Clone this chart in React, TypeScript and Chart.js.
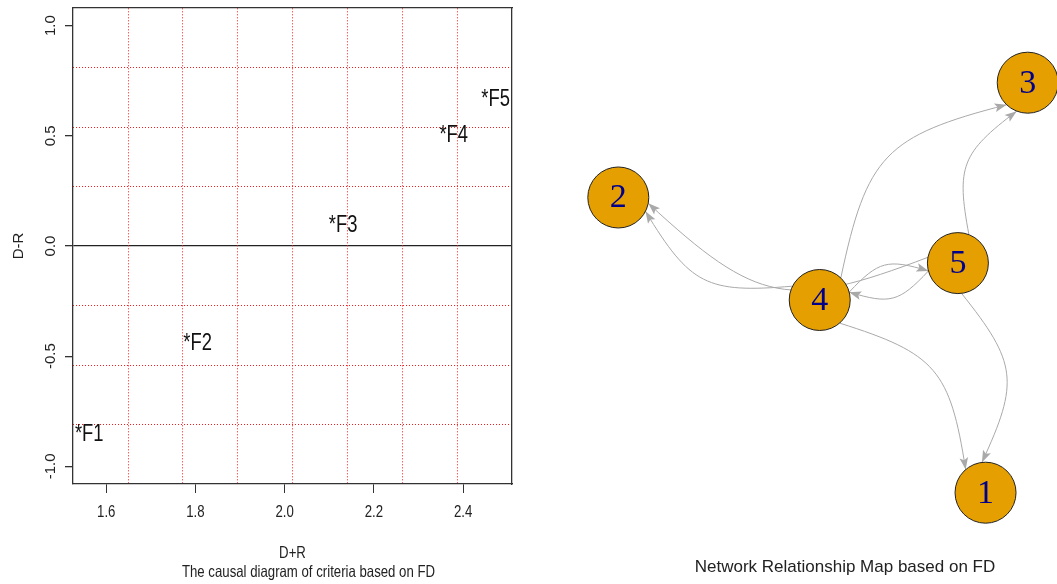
import React, { useEffect, useRef } from "react";
import { Chart, registerables } from "chart.js";

Chart.register(...registerables);

// ---------- Left panel: causal diagram (D+R vs D-R) ----------
const factorNames = ["F1", "F2", "F3", "F4", "F5"];
const dPlusR = [1.562, 1.805, 2.131, 2.379, 2.473];
const dMinusR = [-0.858, -0.445, 0.094, 0.501, 0.664];
const xTickValues = [1.6, 1.8, 2.0, 2.2, 2.4];
const yTickValues = [-1.0, -0.5, 0.0, 0.5, 1.0];
const gridXValues = [1.649, 1.772, 1.895, 2.018, 2.141, 2.264, 2.387];
const gridYValues = [-0.81, -0.54, -0.27, 0.27, 0.54, 0.81];
const xLimits = [1.5255, 2.5097];
const yLimits = [-1.08, 1.08];
const causalCaption = "The causal diagram of criteria based on FD";

// ---------- Right panel: network relationship map ----------
const nodeLabels = ["1", "2", "3", "4", "5"];
const nodeX = [0.794, -1.0, 1.0, -0.016, 0.659];
const nodeY = [-1.0, 0.44, 1.0, -0.06, 0.12];
const edgeFrom = [4, 4, 4, 4, 5, 5, 5, 5];
const edgeTo = [1, 2, 3, 5, 1, 2, 3, 4];
const edgeCurvature = 0.62;
const netXLimits = [-1.2848, 1.1431];
const netYLimits = [-1.4454, 1.4034];
const networkCaption = "Network Relationship Map based on FD";

const SANS = "'Liberation Sans', Arial, sans-serif";
const SERIF = "'Liberation Serif', 'Times New Roman', serif";

const LEFT_W = 560;
const H = 584;
const RIGHT_X = 560;
const RIGHT_W = 1057 - RIGHT_X;
const NODE_R = 30.5;
const LEFT_TEXT_SQUASH = 0.8; // left panel horizontal text is condensed

function zeroPadding(s: any) {
  s.paddingTop = 0;
  s.paddingBottom = 0;
  s.paddingLeft = 0;
  s.paddingRight = 0;
}

function CausalChart() {
  const ref = useRef<HTMLCanvasElement>(null);
  useEffect(() => {
    const canvas = ref.current;
    if (!canvas) return;

    // condensed glyphs for horizontal text on this canvas
    const c2d: any = canvas.getContext("2d");
    const origFill = c2d.fillText;
    c2d.fillText = function (text: string, x: number, y: number, maxWidth?: number) {
      const m = c2d.getTransform();
      const rotated = Math.abs(m.b) > 1e-6 || Math.abs(m.c) > 1e-6;
      if (rotated) {
        if (maxWidth === undefined) origFill.call(c2d, text, x, y);
        else origFill.call(c2d, text, x, y, maxWidth);
        return;
      }
      const p = m.transformPoint(new DOMPoint(x, y));
      const n = new DOMMatrix()
        .translate(p.x, p.y)
        .scale(LEFT_TEXT_SQUASH, 1)
        .translate(-p.x, -p.y)
        .multiply(m);
      c2d.setTransform(n);
      if (maxWidth === undefined) origFill.call(c2d, text, x, y);
      else origFill.call(c2d, text, x, y, maxWidth);
      c2d.setTransform(m);
    };

    const labelPlugin = {
      id: "factorLabels",
      afterDatasetsDraw(chart: any) {
        const ctx = chart.ctx;
        const meta = chart.getDatasetMeta(0);
        ctx.save();
        ctx.font = `23px ${SANS}`;
        ctx.fillStyle = "#111";
        ctx.textAlign = "center";
        ctx.textBaseline = "middle";
        meta.data.forEach((el: any, i: number) => {
          ctx.fillText("*" + factorNames[i], el.x, el.y);
        });
        ctx.restore();
      },
    };

    const captionPlugin = {
      id: "causalCaption",
      afterDraw(chart: any) {
        const { ctx, chartArea } = chart;
        ctx.save();
        ctx.font = `16.5px ${SANS}`;
        ctx.fillStyle = "#222";
        ctx.textAlign = "center";
        ctx.textBaseline = "middle";
        ctx.fillText(
          causalCaption,
          (chartArea.left + chartArea.right) / 2 + 16,
          chartArea.bottom + 88
        );
        ctx.restore();
      },
    };

    const chart = new Chart(canvas, {
      type: "scatter",
      data: {
        datasets: [
          {
            data: dPlusR.map((x, i) => ({ x, y: dMinusR[i] })),
            pointRadius: 0,
            pointHoverRadius: 0,
          },
        ],
      },
      options: {
        animation: false,
        responsive: false,
        events: [],
        layout: { autoPadding: false, padding: { left: 0, top: 8, right: LEFT_W - 512, bottom: 0 } },
        plugins: { legend: { display: false }, tooltip: { enabled: false } },
        scales: {
          x: {
            type: "linear",
            position: "bottom",
            min: xLimits[0],
            max: xLimits[1],
            afterBuildTicks: (s: any) => {
              s.ticks = xTickValues.map((v) => ({ value: v }));
            },
            afterFit: (s: any) => {
              s.height = 100;
              zeroPadding(s);
            },
            ticks: {
              color: "#222",
              padding: 10,
              font: { family: SANS, size: 16.5 },
              callback: (v: any) => Number(v).toFixed(1),
            },
            grid: {
              drawOnChartArea: false,
              drawTicks: true,
              tickLength: 9,
              color: "#333",
              tickColor: "#333",
            },
            border: { display: true, color: "#333", width: 1.3 },
            title: {
              display: true,
              text: "D+R",
              color: "#222",
              font: { family: SANS, size: 16.5 },
              padding: { top: 0, bottom: 21 },
            },
          },
          y: {
            type: "linear",
            position: "left",
            min: yLimits[0],
            max: yLimits[1],
            afterBuildTicks: (s: any) => {
              s.ticks = yTickValues.map((v) => ({ value: v }));
            },
            afterFit: (s: any) => {
              s.width = 73;
              zeroPadding(s);
            },
            ticks: {
              color: "#222",
              minRotation: 90,
              maxRotation: 90,
              crossAlign: "center",
              padding: 1,
              font: { family: SANS, size: 15 },
              callback: (v: any) => Number(v).toFixed(1),
            },
            grid: {
              drawOnChartArea: true,
              drawTicks: true,
              tickLength: 8,
              lineWidth: 1.3,
              color: (c: any) =>
                c.tick && Math.abs(c.tick.value) < 1e-9 ? "#222" : "rgba(0,0,0,0)",
              tickColor: "#333",
            },
            border: { display: true, color: "#333", width: 1.3 },
            title: {
              display: true,
              text: "D-R",
              color: "#222",
              font: { family: SANS, size: 15 },
              padding: { top: 9.5, bottom: 0 },
            },
          },
          gx: {
            type: "linear",
            position: "top",
            min: xLimits[0],
            max: xLimits[1],
            afterBuildTicks: (s: any) => {
              s.ticks = gridXValues.map((v) => ({ value: v }));
            },
            afterFit: (s: any) => {
              s.height = 0;
              zeroPadding(s);
            },
            ticks: { display: false },
            grid: { color: "#ff1a1a", lineWidth: 1, drawTicks: false },
            border: { display: true, color: "#333", width: 1.3, dash: [1, 2] },
          },
          gy: {
            type: "linear",
            position: "right",
            min: yLimits[0],
            max: yLimits[1],
            afterBuildTicks: (s: any) => {
              s.ticks = gridYValues.map((v) => ({ value: v }));
            },
            afterFit: (s: any) => {
              s.width = 0;
              zeroPadding(s);
            },
            ticks: { display: false },
            grid: { color: "#ff1a1a", lineWidth: 1, drawTicks: false },
            border: { display: true, color: "#333", width: 1.3, dash: [1, 2] },
          },
        },
      } as any,
      plugins: [labelPlugin, captionPlugin],
    });
    return () => {
      chart.destroy();
      c2d.fillText = origFill;
    };
  }, []);
  return (
    <canvas
      ref={ref}
      width={LEFT_W}
      height={H}
      style={{ position: "absolute", left: 0, top: 0, width: LEFT_W, height: H }}
    />
  );
}

function drawArrowHead(ctx: any, tx: number, ty: number, dx: number, dy: number) {
  const len = 12;
  const half = 4.3;
  const notch = 9.5;
  const nx = -dy;
  const ny = dx;
  const bx = tx - dx * len;
  const by = ty - dy * len;
  ctx.beginPath();
  ctx.moveTo(tx, ty);
  ctx.lineTo(bx + nx * half, by + ny * half);
  ctx.lineTo(tx - dx * notch, ty - dy * notch);
  ctx.lineTo(bx - nx * half, by - ny * half);
  ctx.closePath();
  ctx.fill();
}

function NetworkChart() {
  const ref = useRef<HTMLCanvasElement>(null);
  useEffect(() => {
    const canvas = ref.current;
    if (!canvas) return;

    const edgesPlugin = {
      id: "edges",
      beforeDatasetsDraw(chart: any) {
        const ctx = chart.ctx;
        const pts = chart.getDatasetMeta(0).data.map((e: any) => ({ x: e.x, y: e.y }));
        ctx.save();
        ctx.strokeStyle = "#A9A9A9";
        ctx.fillStyle = "#A9A9A9";
        ctx.lineWidth = 1;
        for (let i = 0; i < edgeFrom.length; i++) {
          const a = pts[edgeFrom[i] - 1];
          const b = pts[edgeTo[i] - 1];
          const dx = b.x - a.x;
          const dy = b.y - a.y;
          const L = Math.hypot(dx, dy);
          const ux = dx / L;
          const uy = dy / L;
          const ax = a.x + ux * NODE_R;
          const ay = a.y + uy * NODE_R;
          const bx = b.x - ux * NODE_R;
          const by = b.y - uy * NODE_R;
          const Lc = L - 2 * NODE_R;
          const mx = (ax + bx) / 2;
          const my = (ay + by) / 2;
          const off = (edgeCurvature * Lc) / 2;
          const px = mx + uy * off;
          const py = my - ux * off;
          const k = 8 / 9;
          const c1x = ax + k * (px - ax);
          const c1y = ay + k * (py - ay);
          const c2x = bx + k * (px - bx);
          const c2y = by + k * (py - by);
          ctx.beginPath();
          ctx.moveTo(ax, ay);
          ctx.bezierCurveTo(c1x, c1y, c2x, c2y, bx, by);
          ctx.stroke();
          const tdx = bx - c2x;
          const tdy = by - c2y;
          const tl = Math.hypot(tdx, tdy);
          drawArrowHead(ctx, bx, by, tdx / tl, tdy / tl);
        }
        ctx.restore();
      },
    };

    const nodeLabelPlugin = {
      id: "nodeLabels",
      afterDatasetsDraw(chart: any) {
        const ctx = chart.ctx;
        const meta = chart.getDatasetMeta(0);
        ctx.save();
        ctx.font = `34px ${SERIF}`;
        ctx.fillStyle = "#00008B";
        ctx.textAlign = "center";
        ctx.textBaseline = "middle";
        meta.data.forEach((el: any, i: number) => {
          ctx.fillText(nodeLabels[i], el.x, el.y + 1);
        });
        ctx.restore();
      },
    };

    const captionPlugin = {
      id: "networkCaption",
      afterDraw(chart: any) {
        const ctx = chart.ctx;
        ctx.save();
        ctx.font = `17px ${SANS}`;
        ctx.fillStyle = "#222";
        ctx.textAlign = "center";
        ctx.textBaseline = "middle";
        ctx.fillText(networkCaption, 845 - RIGHT_X, 567.5);
        ctx.restore();
      },
    };

    const chart = new Chart(canvas, {
      type: "scatter",
      data: {
        datasets: [
          {
            data: nodeX.map((x, i) => ({ x, y: nodeY[i] })),
            pointRadius: NODE_R,
            pointHoverRadius: NODE_R,
            pointBackgroundColor: "#E69F00",
            pointBorderColor: "#222",
            pointBorderWidth: 1,
            clip: false,
          },
        ],
      },
      options: {
        animation: false,
        responsive: false,
        events: [],
        layout: { autoPadding: false, padding: 0 },
        plugins: { legend: { display: false }, tooltip: { enabled: false } },
        scales: {
          x: { type: "linear", display: false, min: netXLimits[0], max: netXLimits[1] },
          y: { type: "linear", display: false, min: netYLimits[0], max: netYLimits[1] },
        },
      } as any,
      plugins: [edgesPlugin, nodeLabelPlugin, captionPlugin],
    });
    return () => chart.destroy();
  }, []);
  return (
    <canvas
      ref={ref}
      width={RIGHT_W}
      height={H}
      style={{ position: "absolute", left: RIGHT_X, top: 0, width: RIGHT_W, height: H }}
    />
  );
}

export default function App() {
  return (
    <div
      style={{
        position: "absolute",
        left: 0,
        top: 0,
        width: 1057,
        height: 584,
        background: "#fff",
        overflow: "hidden",
      }}
    >
      <CausalChart />
      <NetworkChart />
    </div>
  );
}
